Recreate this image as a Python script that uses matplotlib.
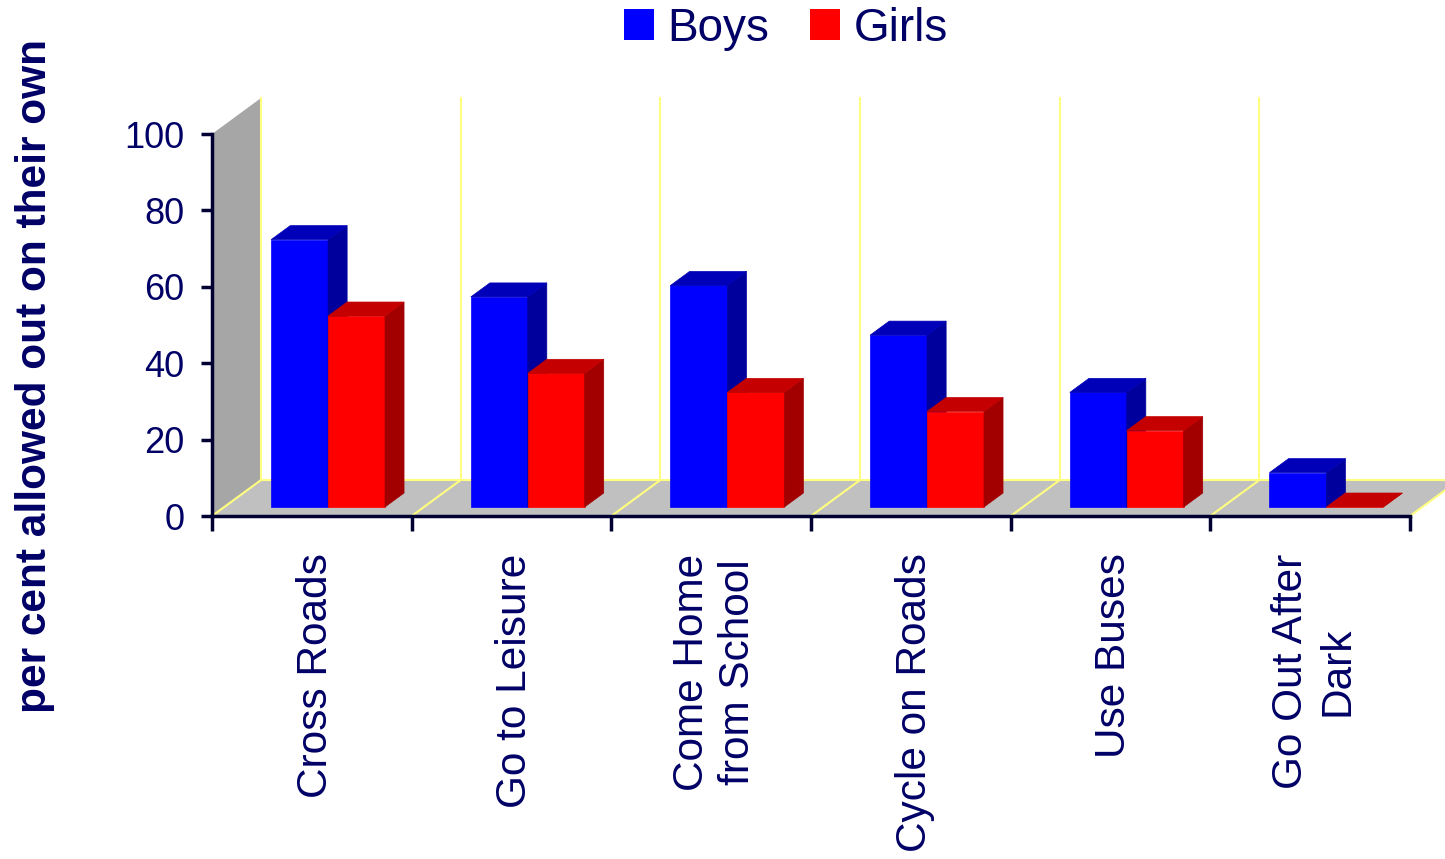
import matplotlib
matplotlib.use("Agg")
import matplotlib.pyplot as plt
from matplotlib.patches import Polygon, Patch

plt.rcParams["font.family"] = ["Liberation Sans", "DejaVu Sans"]

# data
categories = ["Cross Roads", "Go to Leisure", "Come Home\nfrom School",
              "Cycle on Roads", "Use Buses", "Go Out After\nDark"]
boys = [70, 55, 58, 45, 30, 9]
girls = [50, 35, 30, 25, 20, 0]
y_ticks = [0, 20, 40, 60, 80, 100]

navy = "#000066"
dark = "#000033"
boys_cols = ("#0000FF", "#0000B8", "#00009C")   # front, top, side
girls_cols = ("#FF0000", "#C40000", "#A20000")

# fake 3d depth (in data units: categories on x, percent on y)
DX, DY = 0.245, 9.4
F0, FD = 0.25, 0.39     # where the bar front sits in the depth, and bar depth
BAR_W = 0.285
BAR_OFF = 0.235


def bar3d(ax, x, h, cols):
    front, top, side = cols
    x0, y0 = x + F0 * DX, F0 * DY
    ddx, ddy = FD * DX, FD * DY
    faces = [
        ([(x0, y0), (x0 + BAR_W, y0), (x0 + BAR_W, y0 + h), (x0, y0 + h)], front),
        ([(x0 + BAR_W, y0), (x0 + BAR_W + ddx, y0 + ddy),
          (x0 + BAR_W + ddx, y0 + h + ddy), (x0 + BAR_W, y0 + h)], side),
        ([(x0, y0 + h), (x0 + BAR_W, y0 + h),
          (x0 + BAR_W + ddx, y0 + h + ddy), (x0 + ddx, y0 + h + ddy)], top),
    ]
    for pts, c in faces:
        ax.add_patch(Polygon(pts, closed=True, facecolor=c, edgecolor=c,
                             lw=0.5, zorder=3, clip_on=False))


fig = plt.figure(figsize=(14.45, 8.59), dpi=100)
ax = fig.add_axes([212 / 1445, 1 - 516 / 859, 1198 / 1445, 382 / 859])
ax.set_xlim(0, len(categories))
ax.set_ylim(0, 100)
ax.patch.set_visible(False)

n = len(categories)
# back wall and floor
ax.add_patch(Polygon([(0, 0), (DX, DY), (DX, 100 + DY), (0, 100)],
                     facecolor="#A6A6A6", edgecolor="none", zorder=1, clip_on=False))
ax.add_patch(Polygon([(0, 0), (n, 0), (n + DX, DY), (DX, DY)],
                     facecolor="#C0C0C0", edgecolor="none", zorder=1, clip_on=False))

# yellow grid lines on wall / floor
grid_c = "#FFFF80"
for k in range(n + 1):
    ax.plot([k + DX, k + DX], [DY, 100 + DY], color=grid_c, lw=1.5,
            zorder=1.5, clip_on=False)
    ax.plot([k, k + DX], [0, DY], color=grid_c, lw=1.5, zorder=1.5, clip_on=False)
ax.plot([DX, n + DX], [DY, DY], color=grid_c, lw=1.5, zorder=1.5, clip_on=False)

for i in range(n):
    bar3d(ax, i + BAR_OFF, boys[i], boys_cols)
    bar3d(ax, i + BAR_OFF + BAR_W, girls[i], girls_cols)

# axes
for s in ["top", "right"]:
    ax.spines[s].set_visible(False)
for s in ["left", "bottom"]:
    ax.spines[s].set_linewidth(2.5)
    ax.spines[s].set_color(dark)
    ax.spines[s].set_zorder(4)

ax.set_yticks(y_ticks)
ax.tick_params(axis="y", length=8, width=2.5, color=dark, labelsize=26,
               labelcolor=navy, pad=12)

ax.set_xticks([i + 0.52 for i in range(n)])
ax.set_xticklabels(categories, rotation=90)
for t in ax.get_xticklabels():
    t.set_multialignment("center")
ax.set_xticks(range(n + 1), minor=True)
ax.tick_params(axis="x", which="major", length=0, labelsize=30.5,
               labelcolor=navy, pad=27)
ax.tick_params(axis="x", which="minor", length=11, width=2.5, color=dark)

fig.text(35 / 1445, 1 - 376 / 859, "per cent allowed out on their own",
         rotation=90, ha="center", va="center", fontsize=30.5,
         fontweight="bold", color=navy)

handles = [Patch(facecolor=boys_cols[0], label="Boys"),
           Patch(facecolor=girls_cols[0], label="Girls")]
fig.legend(handles=handles, loc="upper center", bbox_to_anchor=(786 / 1445, 1.04),
           ncol=2, frameon=False, fontsize=33, handlelength=0.65,
           handleheight=0.65, handletextpad=0.3, columnspacing=0.9,
           labelcolor=navy)

fig.savefig("out.png", dpi=100)
